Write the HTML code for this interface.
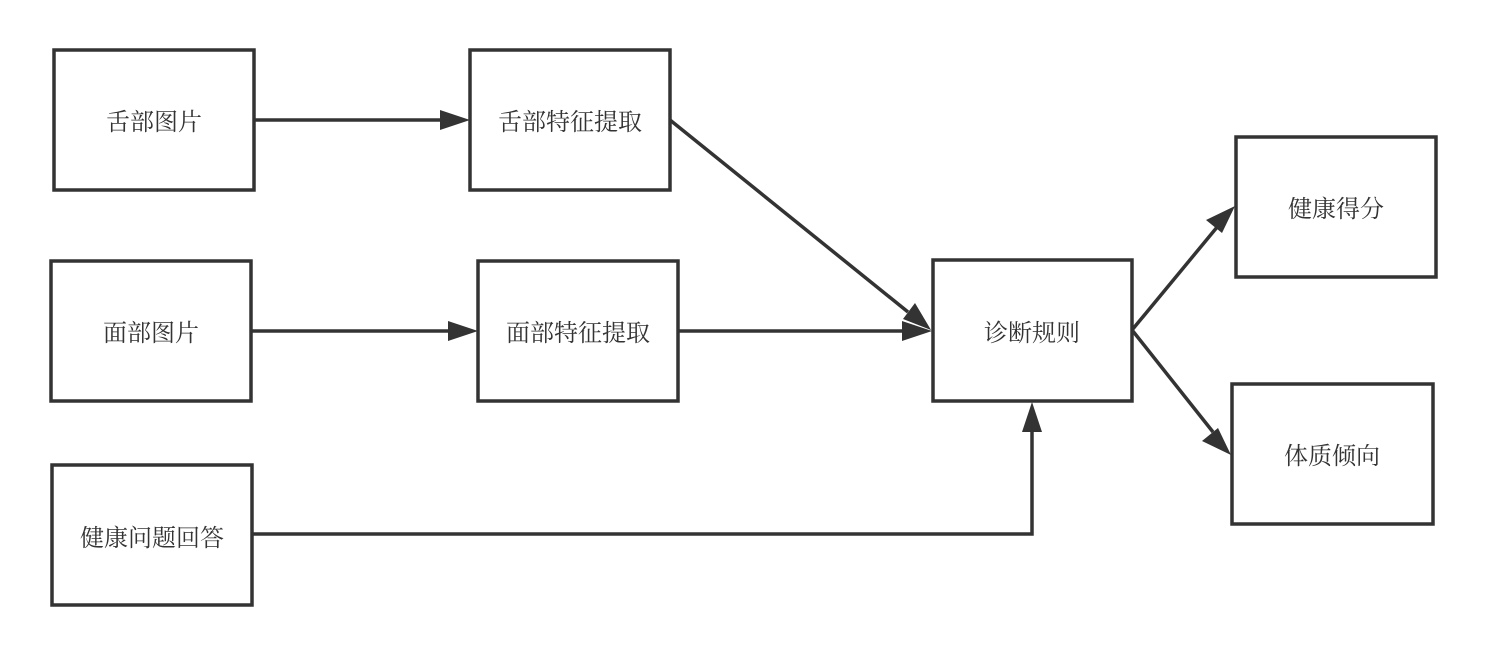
<!DOCTYPE html>
<html><head><meta charset="utf-8"><style>html,body{margin:0;padding:0;background:#fff}svg{display:block}</style></head>
<body>
<svg width="1485" height="654" viewBox="0 0 1485 654" xmlns="http://www.w3.org/2000/svg">
<defs>
<marker id="a" viewBox="0 0 10 10" refX="10" refY="5" markerWidth="9" markerHeight="6" markerUnits="userSpaceOnUse" orient="auto" style="overflow:visible">
</marker>
</defs>
<g fill="#fff" stroke="#333" stroke-width="3.5">
<rect x="54" y="50" width="200" height="140"/>
<rect x="470" y="50" width="200" height="140"/>
<rect x="51" y="261" width="200" height="140"/>
<rect x="478" y="261" width="200" height="140"/>
<rect x="52" y="465" width="200" height="140"/>
<rect x="933" y="260" width="199" height="141"/>
<rect x="1236" y="137" width="200" height="140"/>
<rect x="1232" y="384" width="201" height="140"/>
</g>
<g stroke="#333" stroke-width="3.5" fill="none">
<polyline points="254,120 442,120"/>
<polyline points="670,120 908,312"/>
<polyline points="251,331 450,331"/>
<polyline points="678,331 904,331"/>
<polyline points="252,534 1032,534 1032,430"/>
<polyline points="1132,330 1218,226"/>
<polyline points="1132,330 1213,432"/>
</g>
<g fill="#333">
<polygon points="470,120 440,110 440,130"/>
<polygon points="931,330 903,319 915,303"/>
<polygon points="478,331 448,321 448,341"/>
<polygon points="932,331 902,321 902,341"/>
<polygon points="1032,402 1022,432 1042,432"/>
<polygon points="1235,206 1222,233 1206,220"/>
<polygon points="1231,455 1202,441 1218,428"/>
</g>
<g font-family="'Liberation Serif','Noto Serif CJK SC',serif" font-size="24" fill="#333" text-anchor="middle" dominant-baseline="central">
<text x="154" y="123">舌部图片</text>
<text x="570" y="123">舌部特征提取</text>
<text x="151" y="334">面部图片</text>
<text x="578" y="334">面部特征提取</text>
<text x="152" y="539">健康问题回答</text>
<text x="1032" y="334">诊断规则</text>
<text x="1336" y="210">健康得分</text>
<text x="1332" y="457">体质倾向</text>
</g>
</svg>
</body></html>
